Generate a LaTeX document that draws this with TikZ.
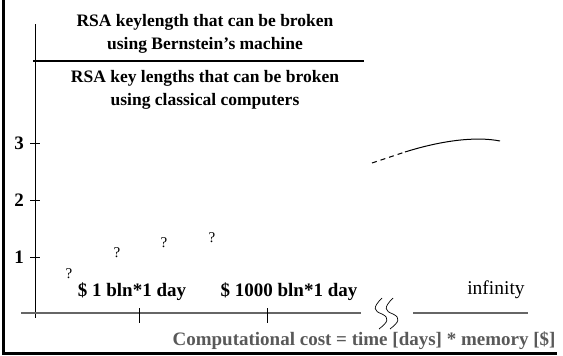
\documentclass[tikz,border=0pt]{standalone}
\usepackage{fontspec}
\setmainfont{Liberation Serif}
\tikzset{
  heading/.style={font=\fontsize{17.5}{23}\selectfont\bfseries, align=center},
  ticklabel/.style={font=\fontsize{19}{22}\selectfont\bfseries},
  costlabel/.style={font=\fontsize{19}{22}\selectfont\bfseries},
  guess/.style={font=\fontsize{15}{17}\selectfont},
  axisline/.style={draw=black!60, line width=1.2pt},
}
\begin{document}
\begin{tikzpicture}[x=1pt,y=-1pt]
  \useasboundingbox (0,0) rectangle (563,356);

  % frame
  \draw[line width=3pt] (3.5,0) -- (3.5,353) -- (557,353);

  % axes
  \coordinate (ytop) at (35,24);
  \coordinate (ybot) at (35,318);
  \coordinate (xleft) at (21,313);
  \coordinate (xbreak) at (361,313);
  \coordinate (xresume) at (413,313);
  \coordinate (xend) at (528,313);
  \draw[line width=1pt] (ytop) -- (ybot);
  \draw[axisline] (xleft) -- (xbreak);
  \draw[axisline] (xresume) -- (xend);

  % divider
  \coordinate (divl) at (33,61);
  \coordinate (divr) at (364,61);
  \draw[line width=1.4pt] (divl) -- (divr);

  \node[heading] (bern) at (205,34) {RSA keylength that can be broken\\using Bernstein's machine};
  \node[heading] (class) at (205,90) {RSA key lengths that can be broken\\using classical computers};

  % y ticks
  \foreach \y/\lab in {143/3, 200/2, 257/1} {
    \draw[line width=0.8pt] (30,\y) -- (40,\y);
    \node[ticklabel] (lab\lab) at (19,\y) {\lab};
  }

  % x ticks
  \foreach \x in {139, 267} {
    \draw[line width=0.8pt] (\x,308) -- (\x,323);
  }
  \node[costlabel] (one) at (132,292) {\$ 1 bln*1 day};
  \node[costlabel] (thousand) at (289,292) {\$ 1000 bln*1 day};
  \node[font=\fontsize{19.5}{22}\selectfont] (inf) at (496,290) {infinity};
  \node[costlabel, text=black!65, anchor=east] (xlab) at (559,341) {Computational cost = time [days] * memory [\$]};

  % unknowns
  \begin{scope}[every node/.style={guess}]
    \node (q1) at (69,274) {?};
    \node (q2) at (117,253) {?};
    \node (q3) at (164,243) {?};
    \node (q4) at (212,238) {?};
  \end{scope}

  % curve
  \coordinate (c0) at (372,163);
  \coordinate (c1) at (405,152);
  \coordinate (c2) at (500,141);
  \draw[dashed, line width=1pt, dash pattern=on 5pt off 4pt] (c0) -- (c1);
  \draw[line width=1pt] (c1) .. controls (440,141) and (475,136) .. (c2);

  % axis break
  \foreach \dx in {0,11} {
    \draw[line width=0.7pt, xshift=\dx] (382,298) .. controls (372,308) and (374,311) .. (382,314)
      .. controls (390,318) and (388,322) .. (379,329);
  }
\end{tikzpicture}
\end{document}
